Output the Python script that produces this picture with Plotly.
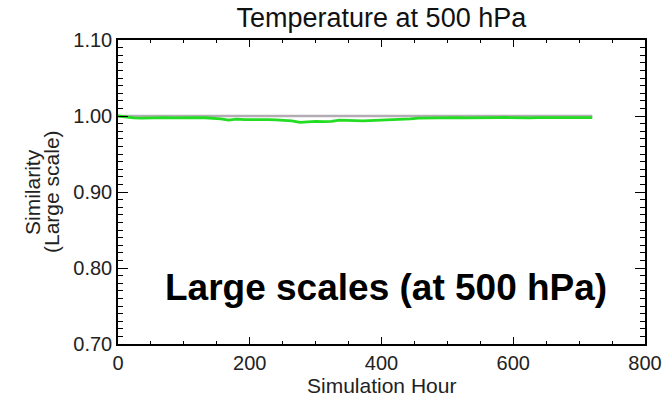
import plotly.graph_objects as go

# Simulation hour (every 12 h) and large-scale similarity of 500 hPa temperature
hours = [0, 12, 24, 36, 48, 60, 72, 84, 96, 108, 120, 132, 144, 156, 168, 180,
         192, 204, 216, 228, 240, 252, 264, 276, 288, 300, 312, 324, 336, 348,
         360, 372, 384, 396, 408, 420, 432, 444, 456, 468, 480, 492, 504, 516,
         528, 540, 552, 564, 576, 588, 600, 612, 624, 636, 648, 660, 672, 684,
         696, 708, 720]
similarity = [1.0000, 0.9985, 0.9975, 0.9972, 0.9976, 0.9974, 0.9978, 0.9975,
              0.9978, 0.9976, 0.9979, 0.9977, 0.9972, 0.9962, 0.9945, 0.9958,
              0.9952, 0.9955, 0.9950, 0.9953, 0.9948, 0.9945, 0.9935, 0.9915,
              0.9925, 0.9930, 0.9927, 0.9930, 0.9945, 0.9938, 0.9940, 0.9937,
              0.9940, 0.9942, 0.9945, 0.9955, 0.9960, 0.9963, 0.9972, 0.9975,
              0.9974, 0.9977, 0.9976, 0.9978, 0.9975, 0.9978, 0.9977, 0.9979,
              0.9978, 0.9980, 0.9976, 0.9978, 0.9975, 0.9979, 0.9978, 0.9976,
              0.9979, 0.9978, 0.9977, 0.9979, 0.9978]
reference = [1.0] * len(hours)

x_ticks = [0, 200, 400, 600, 800]
y_ticks = [0.70, 0.80, 0.90, 1.00, 1.10]

font_family = "Liberation Sans, Arial, Helvetica, sans-serif"
text_color = "#222"

W, H = 665, 397
M_L, M_R, M_T, M_B = 118, 20, 40, 53
plot_w = W - M_L - M_R

fig = go.Figure()
fig.add_trace(go.Scatter(x=hours, y=reference, mode="lines",
                         line=dict(color="#b4acb4", width=2.5),
                         showlegend=False, hoverinfo="skip"))
fig.add_trace(go.Scatter(x=hours, y=similarity, mode="lines",
                         line=dict(color="#22dd22", width=2.8),
                         showlegend=False))

axis_common = dict(
    showline=True, linecolor="black", linewidth=1.5, mirror="allticks",
    ticks="inside", tickwidth=1.2, tickcolor="black",
    showgrid=False, zeroline=False, automargin=False,
    tickfont=dict(family=font_family, size=20, color=text_color),
)

fig.update_xaxes(
    range=[0, 800], tickvals=x_ticks, ticklen=7,
    minor=dict(dtick=50, ticks="inside", ticklen=3, tickcolor="black", tickwidth=1.2),
    **axis_common,
)
fig.update_yaxes(
    range=[0.70, 1.10], tickvals=y_ticks, tickformat=".2f", ticklen=10,
    minor=dict(dtick=0.01, ticks="inside", ticklen=5, tickcolor="black", tickwidth=1.2),
    **axis_common,
)

# Axis titles
fig.add_annotation(
    x=0.5, y=-0.138, xref="paper", yref="paper", xanchor="center", yanchor="middle",
    text="Simulation Hour", showarrow=False,
    font=dict(family=font_family, size=21, color=text_color),
)
for px, label in [(32, "Similarity"), (51, "(Large scale)")]:
    fig.add_annotation(
        x=(px - M_L) / plot_w, y=0.5, xref="paper", yref="paper",
        xanchor="center", yanchor="middle",
        text=label, showarrow=False, textangle=-90,
        font=dict(family=font_family, size=21, color=text_color),
    )

fig.add_annotation(
    x=407, y=0.775, xref="x", yref="y", xanchor="center", yanchor="middle",
    text="<b>Large scales (at 500 hPa)</b>",
    showarrow=False, font=dict(family=font_family, size=37, color="black"),
)

fig.update_layout(
    width=W, height=H,
    margin=dict(l=M_L, r=M_R, t=M_T, b=M_B),
    paper_bgcolor="white", plot_bgcolor="white",
    title=dict(text="Temperature at 500 hPa", x=0.5735, xanchor="center",
               y=0.955, yanchor="middle",
               font=dict(family=font_family, size=27, color="#111")),
)

fig.write_html("out.html")
